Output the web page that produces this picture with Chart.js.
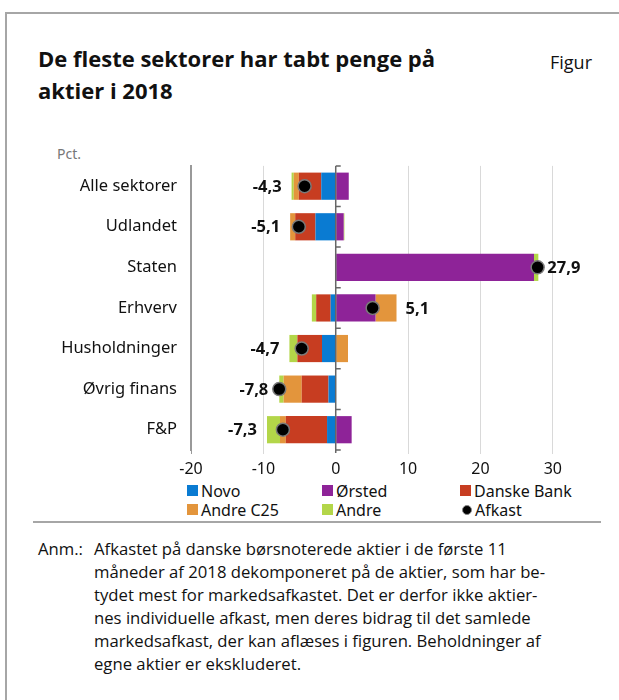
<!DOCTYPE html>
<html>
<head>
<meta charset="utf-8">
<script src="https://cdn.jsdelivr.net/npm/chart.js@4/dist/chart.umd.min.js"></script>
<style>
  html, body { margin: 0; padding: 0; background: #fff; }
  body { width: 619px; height: 700px; position: relative; overflow: hidden; font-family: "Open Sans", sans-serif; color: #111; }
  .frame { position: absolute; left: 5px; top: 12px; width: 640px; height: 720px; border-left: 2px solid #a6a6a6; border-top: 2px solid #a6a6a6; }
  .title { position: absolute; left: 38px; top: 42px; font-size: 22px; font-weight: bold; line-height: 32px; }
  .figur { position: absolute; left: 550px; top: 50px; font-size: 18px; }
  .unit { position: absolute; left: 57px; top: 144px; font-size: 14px; color: #777; font-family: "Noto Sans", sans-serif; }
  #wrap { position: absolute; left: 0; top: 150px; width: 619px; height: 330px; }
  #legend { position: absolute; left: 187px; top: 481px; display: grid; grid-template-columns: 135px 138px 140px; row-gap: 0px; font-family: "Noto Sans", sans-serif; font-size: 16px; color: #111; }
  #legend div { display: flex; align-items: center; height: 19px; }
  #legend span.box { display: inline-block; width: 11px; height: 11px; margin-right: 3px; }
  #legend span.dot { display: inline-block; width: 8px; height: 8px; border-radius: 50%; background: #000; border: 1.5px solid #888; margin: 0 3px 0 2px; }
  .sep { position: absolute; left: 33px; top: 521px; width: 568px; height: 2px; background: #a6a6a6; }
  .note { position: absolute; left: 38px; top: 537px; font-size: 16.7px; line-height: 23px; }
  .note .lbl { position: absolute; left: 0; top: 0; }
  .note .txt { position: absolute; left: 56px; top: 0; white-space: nowrap; }
</style>
</head>
<body>
<div class="frame"></div>
<div class="title">De fleste sektorer har tabt penge på<br>aktier i 2018</div>
<div class="figur">Figur</div>
<div class="unit">Pct.</div>
<div id="wrap"><canvas id="chart"></canvas></div>
<div id="legend"></div>
<div class="sep"></div>
<div class="note">
  <div class="lbl">Anm.:</div>
  <div class="txt">Afkastet på danske børsnoterede aktier i de første 11<br>måneder af 2018 dekomponeret på de aktier, som har be-<br>tydet mest for markedsafkastet. Det er derfor ikke aktier-<br>nes individuelle afkast, men deres bidrag til det samlede<br>markedsafkast, der kan aflæses i figuren. Beholdninger af<br>egne aktier er ekskluderet.</div>
</div>
<script>
const categories = ['Alle sektorer', 'Udlandet', 'Staten', 'Erhverv', 'Husholdninger', 'Øvrig finans', 'F&P'];
const novo = [-2.0, -2.8, 0, -0.7, -1.9, -1.0, -1.2];
const orsted = [1.8, 1.1, 27.4, 5.5, 0, 0, 2.2];
const danskeBank = [-3.1, -2.8, 0, -2.0, -3.4, -3.7, -5.7];
const andreC25 = [-0.7, -0.7, -0.1, 2.9, 1.7, -2.5, -0.8];
const andre = [-0.3, 0.1, 0.6, -0.6, -1.1, -0.6, -1.8];
const afkast = [-4.3, -5.1, 27.9, 5.1, -4.7, -7.8, -7.3];
const xTicks = [-20, -10, 0, 10, 20, 30];

const FONT = '"Noto Sans", sans-serif';

// zero line with small ticks between categories + value labels
const extras = {
  id: 'extras',
  afterDatasetsDraw(chart) {
    const { ctx, chartArea, scales } = chart;
    const x0 = scales.x.getPixelForValue(0);
    const n = categories.length;
    const step = (chartArea.bottom - chartArea.top) / n;
    ctx.save();
    ctx.strokeStyle = '#666';
    ctx.lineWidth = 1.5;
    ctx.beginPath();
    ctx.moveTo(x0, chartArea.top);
    ctx.lineTo(x0, chartArea.bottom + 3);
    for (let i = 0; i <= n; i++) {
      const y = chartArea.top + i * step;
      ctx.moveTo(x0, y);
      ctx.lineTo(x0 + 5, y);
    }
    ctx.stroke();
    ctx.restore();
  },
  afterDraw(chart) {
    const { ctx, scales } = chart;
    const bars = chart.data.datasets.filter(d => d.type !== 'line');
    ctx.save();
    ctx.font = 'bold 16.5px ' + FONT;
    ctx.fillStyle = '#111';
    ctx.textBaseline = 'middle';
    categories.forEach((c, i) => {
      let neg = 0, pos = 0;
      bars.forEach(d => { const v = d.data[i]; if (v < 0) neg += v; else pos += v; });
      const y = scales.y.getPixelForValue(i);
      const dx = scales.x.getPixelForValue(afkast[i]);
      const txt = afkast[i].toFixed(1).replace('.', ',');
      if (afkast[i] < 0) {
        const x = Math.min(scales.x.getPixelForValue(neg) - 10, dx - 11);
        ctx.textAlign = 'right';
        ctx.fillText(txt, x, y + 1);
      } else {
        const x = Math.max(scales.x.getPixelForValue(pos) + 9, dx + 7);
        ctx.textAlign = 'left';
        ctx.fillText(txt, x, y + 1);
      }
    });
    ctx.restore();
  }
};

const chart = new Chart(document.getElementById('chart'), {
  data: {
    labels: categories,
    datasets: [
      { type: 'line', label: 'Afkast', data: afkast, showLine: false, stack: 'afkast',
        pointRadius: 6.5, pointBackgroundColor: '#000', pointBorderColor: '#7a7a7a', pointBorderWidth: 1.5, order: 0 },
      { type: 'bar', label: 'Novo', data: novo, backgroundColor: '#0a7bd2', order: 1 },
      { type: 'bar', label: 'Ørsted', data: orsted, backgroundColor: '#8e2398', order: 1 },
      { type: 'bar', label: 'Danske Bank', data: danskeBank, backgroundColor: '#c73d21', order: 1 },
      { type: 'bar', label: 'Andre C25', data: andreC25, backgroundColor: '#e3953c', order: 1 },
      { type: 'bar', label: 'Andre', data: andre, backgroundColor: '#b3d649', order: 1 }
    ]
  },
  options: {
    indexAxis: 'y',
    responsive: true,
    maintainAspectRatio: false,
    animation: false,
    layout: { padding: { top: 1, right: 30, left: 0, bottom: 0 } },
    datasets: { bar: { barPercentage: 0.67, categoryPercentage: 1, borderWidth: 0 } },
    plugins: { legend: { display: false }, tooltip: { enabled: false } },
    scales: {
      x: {
        stacked: true,
        min: -20,
        max: 35,
        afterBuildTicks: s => { s.ticks = xTicks.map(v => ({ value: v })); },
        afterFit: s => { s.height = 30; },
        grid: {
          color: ctx => ctx.tick && ctx.tick.value === -20 ? '#999' : (ctx.tick && ctx.tick.value === 0 ? 'rgba(0,0,0,0)' : '#d9d9d9'),
          lineWidth: 1,
          tickLength: 4
        },
        border: { display: false },
        ticks: { color: '#111', font: { family: FONT, size: 16 }, padding: 6, maxRotation: 0 }
      },
      y: {
        stacked: true,
        afterFit: s => { s.width = 191; },
        grid: { display: false },
        border: { display: true, color: '#999', width: 2 },
        ticks: { color: '#111', font: { family: FONT, size: 16.5 }, padding: 6 }
      }
    }
  },
  plugins: [extras]
});

// legend from the datasets, Afkast last
const legend = document.getElementById('legend');
const items = chart.data.datasets.filter(d => d.type === 'bar').concat(chart.data.datasets.filter(d => d.type === 'line'));
items.forEach(d => {
  const el = document.createElement('div');
  const mark = document.createElement('span');
  if (d.type === 'line') { mark.className = 'dot'; }
  else { mark.className = 'box'; mark.style.background = d.backgroundColor; }
  el.appendChild(mark);
  el.appendChild(document.createTextNode(d.label));
  legend.appendChild(el);
});
</script>
</body>
</html>
